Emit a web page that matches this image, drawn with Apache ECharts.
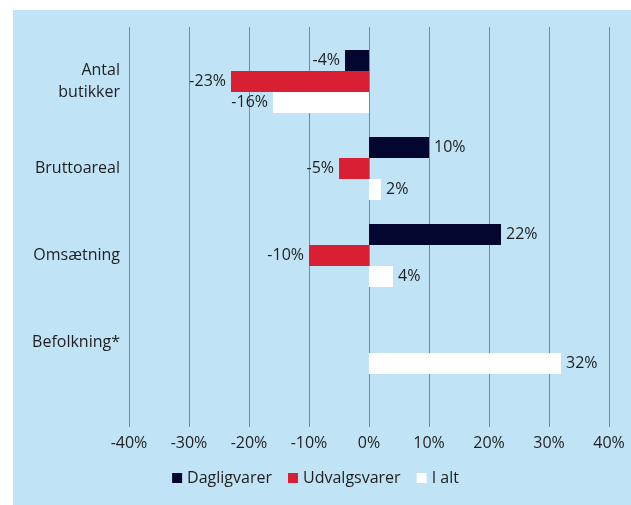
<!DOCTYPE html>
<html>
<head>
<meta charset="utf-8">
<script src="https://cdn.jsdelivr.net/npm/echarts@6/dist/echarts.min.js"></script>
<style>
  html, body { margin: 0; padding: 0; background: #fff; }
  #chart { width: 631px; height: 505px; }
</style>
</head>
<body>
<div id="chart"></div>
<script>
const categories = ['Antal\nbutikker', 'Bruttoareal', 'Omsætning', 'Befolkning*']
const dagligvarer = [-4, 10, 22, null]
const udvalgsvarer = [-23, -5, -10, null]
const iAlt = [-16, 2, 4, 32]
const xTicks = [-40, -30, -20, -10, 0, 10, 20, 30, 40]

const textColor = '#1e1e1e'
const font = '"Open Sans", sans-serif'

function withLabels(values) {
  return values.map(v => v == null ? null : {
    value: v,
    label: { position: v < 0 ? 'left' : 'right' },
  })
}

function barSeries(name, values, color) {
  return {
    name,
    type: 'bar',
    xAxisIndex: 1,
    yAxisIndex: 1,
    barWidth: 21,
    barGap: '0%',
    data: withLabels(values),
    itemStyle: { color },
    label: {
      show: true,
      distance: 5,
      color: textColor,
      fontSize: 16,
      fontFamily: font,
      formatter: p => p.value + '%',
    },
  }
}

const chart = echarts.init(document.getElementById('chart'))
chart.setOption({
  animation: false,
  graphic: [{
    type: 'rect',
    z: -10,
    shape: { x: 13, y: 10, width: 618, height: 495 },
    style: { fill: '#c1e3f6' },
  }],
  legend: {
    bottom: 14,
    left: 'center',
    itemWidth: 10,
    itemHeight: 10,
    itemGap: 16,
    icon: 'rect',
    textStyle: { color: textColor, fontSize: 16, fontFamily: font },
    data: [
      { name: 'Dagligvarer' },
      { name: 'Udvalgsvarer' },
      { name: 'I alt', itemStyle: { color: '#ffffff' } },
    ],
  },
  grid: [
    { left: 129, right: 22, top: 27, bottom: 78 },
    { left: 129, right: 22, top: 38, height: 348 },
  ],
  xAxis: [
    {
      gridIndex: 0,
      type: 'value',
      min: xTicks[0],
      max: xTicks[xTicks.length - 1],
      interval: 10,
      axisLine: { show: false },
      axisTick: { show: false },
      splitLine: { lineStyle: { color: '#7d8791', width: 1 } },
      axisLabel: {
        margin: 8,
        color: textColor,
        fontSize: 16,
        fontFamily: font,
        formatter: v => v + '%',
      },
    },
    {
      gridIndex: 1,
      type: 'value',
      min: xTicks[0],
      max: xTicks[xTicks.length - 1],
      show: false,
    },
  ],
  yAxis: [
    { gridIndex: 0, type: 'category', data: categories, show: false },
    {
      gridIndex: 1,
      type: 'category',
      inverse: true,
      data: categories,
      axisLine: { show: false },
      axisTick: { show: false },
      axisLabel: {
        margin: 9,
        color: textColor,
        fontSize: 16,
        lineHeight: 22,
        fontFamily: font,
        align: 'right',
      },
    },
  ],
  series: [
    barSeries('Dagligvarer', dagligvarer, '#03062e'),
    barSeries('Udvalgsvarer', udvalgsvarer, '#d91f34'),
    barSeries('I alt', iAlt, '#ffffff'),
  ],
})
</script>
</body>
</html>
